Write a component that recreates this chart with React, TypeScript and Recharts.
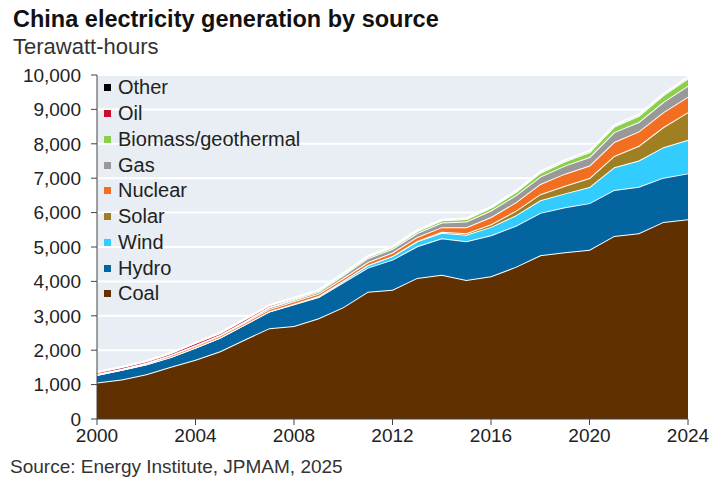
import { AreaChart, Area, XAxis, YAxis, CartesianGrid } from "recharts";

const YEARS = [2000, 2001, 2002, 2003, 2004, 2005, 2006, 2007, 2008, 2009, 2010, 2011, 2012, 2013, 2014, 2015, 2016, 2017, 2018, 2019, 2020, 2021, 2022, 2023, 2024];

const COAL = [1060, 1150, 1300, 1520, 1720, 1970, 2310, 2640, 2700, 2930, 3250, 3700, 3760, 4100, 4190, 4040, 4150, 4420, 4760, 4850, 4920, 5320, 5400, 5730, 5810];
const HYDRO = [222, 278, 288, 284, 354, 397, 436, 486, 637, 616, 722, 699, 872, 921, 1064, 1130, 1193, 1194, 1232, 1302, 1355, 1340, 1352, 1285, 1330];
const WIND = [1, 1, 1, 1, 1, 2, 4, 6, 15, 28, 49, 74, 103, 141, 160, 186, 241, 303, 366, 406, 467, 656, 763, 886, 980];
const SOLAR = [0, 0, 0, 0, 0, 0, 0, 0, 0, 0, 1, 3, 6, 16, 29, 45, 75, 131, 177, 224, 261, 327, 428, 584, 800];
const NUCLEAR = [17, 17, 25, 43, 50, 53, 55, 62, 68, 70, 74, 86, 97, 112, 133, 171, 213, 248, 295, 349, 366, 408, 418, 435, 451];
const GAS = [13, 14, 15, 15, 20, 24, 28, 46, 45, 50, 78, 110, 111, 116, 133, 167, 188, 203, 215, 233, 247, 287, 271, 296, 320];
const BIOMASS = [2, 3, 3, 4, 4, 5, 12, 22, 31, 36, 38, 44, 50, 58, 65, 73, 84, 97, 113, 126, 145, 163, 181, 197, 210];
const OIL = [47, 45, 49, 50, 62, 49, 52, 40, 25, 15, 13, 8, 8, 6, 9, 10, 10, 12, 14, 13, 11, 13, 12, 13, 13];
const OTHER = [2, 2, 3, 3, 3, 4, 5, 5, 6, 6, 8, 9, 10, 11, 12, 13, 14, 15, 17, 18, 19, 21, 22, 24, 25];

const X_TICKS = [2000, 2004, 2008, 2012, 2016, 2020, 2024];
const Y_TICKS = [0, 1000, 2000, 3000, 4000, 5000, 6000, 7000, 8000, 9000, 10000];

// bottom to top stacking order
const SERIES = [
  { key: "coal", name: "Coal", values: COAL, color: "#603000" },
  { key: "hydro", name: "Hydro", values: HYDRO, color: "#03649f" },
  { key: "wind", name: "Wind", values: WIND, color: "#33ccff" },
  { key: "solar", name: "Solar", values: SOLAR, color: "#a07f22" },
  { key: "nuclear", name: "Nuclear", values: NUCLEAR, color: "#f26f21" },
  { key: "gas", name: "Gas", values: GAS, color: "#999999" },
  { key: "biomass", name: "Biomass/geothermal", values: BIOMASS, color: "#8ccf4d" },
  { key: "oil", name: "Oil", values: OIL, color: "#c8102e" },
  { key: "other", name: "Other", values: OTHER, color: "#000000" },
];

const data = YEARS.map((year, i) => {
  const row: Record<string, number> = { year };
  SERIES.forEach((s) => {
    row[s.key] = s.values[i];
  });
  return row;
});

const FONT = '"Liberation Sans", Arial, sans-serif';

export default function App() {
  const legendItems = [...SERIES].reverse();
  return (
    <div style={{ position: "absolute", left: 0, top: 0, width: 726, height: 479, background: "#fff", fontFamily: FONT, color: "#222" }}>
      <div style={{ position: "absolute", left: 13, top: 6, fontSize: 23.5, fontWeight: "bold", color: "#111", whiteSpace: "nowrap" }}>
        China electricity generation by source
      </div>
      <div style={{ position: "absolute", left: 13, top: 34, fontSize: 22, color: "#333", whiteSpace: "nowrap" }}>Terawatt-hours</div>

      <AreaChart width={726} height={479} data={data} margin={{ top: 75, right: 38, bottom: 28, left: 0 }}>
        <CartesianGrid vertical={false} stroke="#ffffff" strokeWidth={2} fill="#e8eef3" />
        <XAxis
          dataKey="year"
          type="number"
          domain={[2000, 2024]}
          ticks={X_TICKS}
          tickLine={{ stroke: "#444" }}
          tickSize={6}
          tickMargin={4}
          axisLine={{ stroke: "#444" }}
          tick={{ fill: "#222", fontSize: 19, fontFamily: FONT }}
          height={32}
        />
        <YAxis
          domain={[0, 10000]}
          ticks={Y_TICKS}
          width={97}
          tickLine={{ stroke: "#444" }}
          tickSize={6}
          tickMargin={10}
          axisLine={{ stroke: "#444" }}
          tick={{ fill: "#222", fontSize: 19, fontFamily: FONT }}
          tickFormatter={(v: number) => v.toLocaleString("en-US")}
        />
        {SERIES.map((s) => (
          <Area
            key={s.key}
            dataKey={s.key}
            name={s.name}
            stackId="1"
            type="linear"
            fill={s.color}
            fillOpacity={1}
            stroke="#ffffff"
            strokeWidth={2}
            isAnimationActive={false}
          />
        ))}
      </AreaChart>

      <div style={{ position: "absolute", left: 104, top: 75 }}>
        {legendItems.map((s) => (
          <div key={s.key} style={{ display: "flex", alignItems: "center", height: 25.75, fontSize: 20, color: "#222", whiteSpace: "nowrap" }}>
            <span style={{ display: "inline-block", width: 7, height: 7, background: s.color, marginRight: 7 }} />
            {s.name}
          </div>
        ))}
      </div>

      <div style={{ position: "absolute", left: 10, top: 456, fontSize: 19, color: "#333", whiteSpace: "nowrap" }}>
        Source: Energy Institute, JPMAM, 2025
      </div>
    </div>
  );
}
